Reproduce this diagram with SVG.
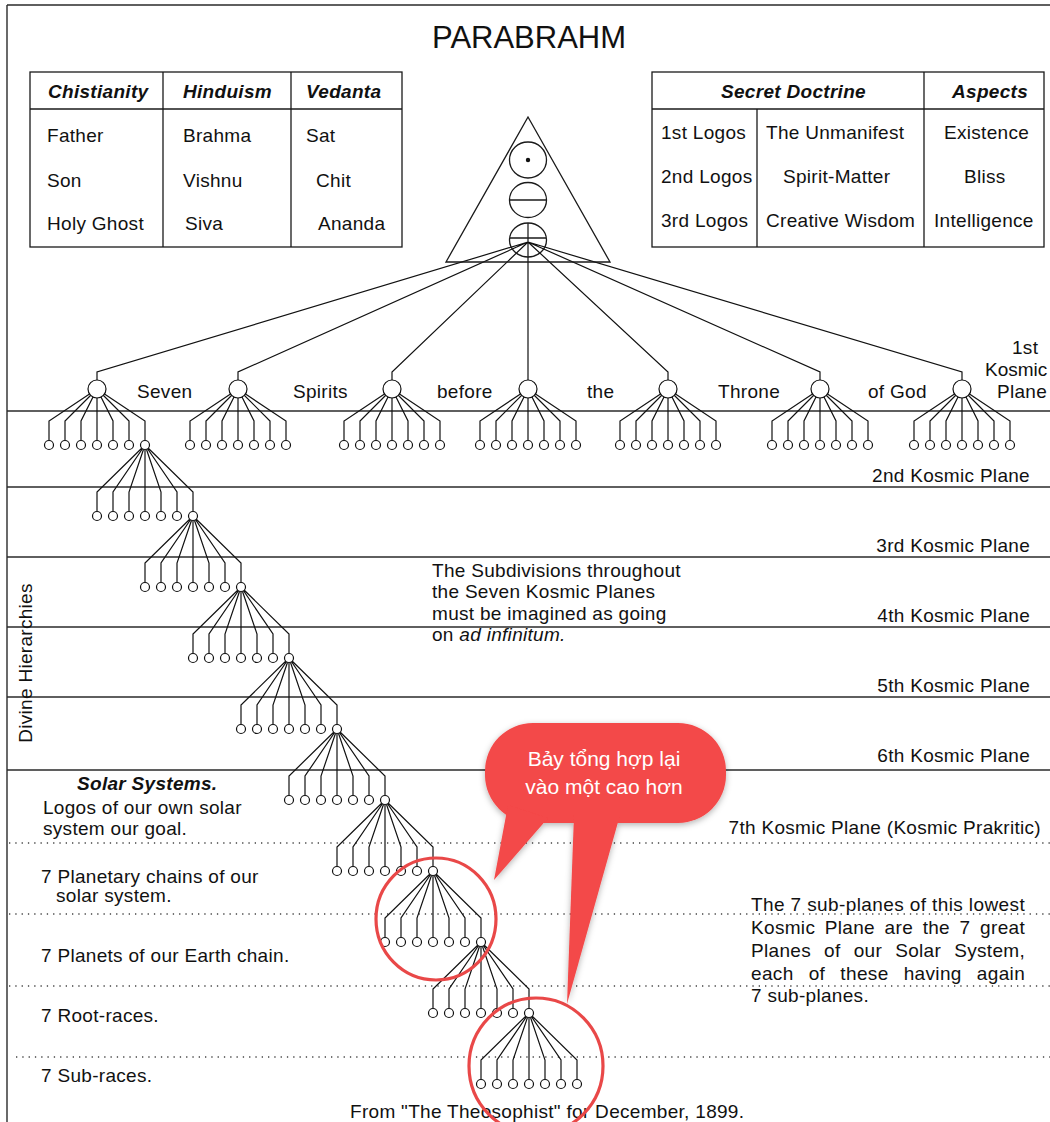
<svg xmlns="http://www.w3.org/2000/svg" width="1050" height="1122" viewBox="0 0 1050 1122">
<style>
 text{font-family:"Liberation Sans",Arial,sans-serif;font-size:19px;fill:#111;letter-spacing:0.3px}
 .hd{font-weight:bold;font-style:italic}
 .it{font-style:italic}
 .ln{stroke:#1a1a1a;stroke-width:1.3;fill:none}
 .plane{stroke:#2a2a2a;stroke-width:1.4}
 .dot{stroke:#444;stroke-width:1.3;stroke-dasharray:1.3 5}
 .c{fill:none;stroke:#111;stroke-width:1.2}
 .n{fill:#fff;stroke:#111;stroke-width:1.2}
 .ct{fill:#fff;font-size:21px;letter-spacing:0}
 .ring{fill:none;stroke:#e94848;stroke-width:3.2}
</style>
<defs>
 <g id="sf"><path class="c" d="M0,0 L-48,32 V51.5 M0,0 L-32,32 V51.5 M0,0 L-16,32 V51.5 M0,0 V51.5 M0,0 L16,32 V51.5 M0,0 L32,32 V51.5 M0,0 L48,32 V51.5"/></g>
 <g id="sk"><circle class="n" cx="-48" cy="56" r="4.5"/><circle class="n" cx="-32" cy="56" r="4.5"/><circle class="n" cx="-16" cy="56" r="4.5"/><circle class="n" cx="0" cy="56" r="4.5"/><circle class="n" cx="16" cy="56" r="4.5"/><circle class="n" cx="32" cy="56" r="4.5"/><circle class="n" cx="48" cy="56" r="4.5"/></g>
 <g id="lf"><path class="c" d="M0,0 L-48,47 V66.5 M0,0 L-32,47 V66.5 M0,0 L-16,47 V66.5 M0,0 V66.5 M0,0 L16,47 V66.5 M0,0 L32,47 V66.5 M0,0 L48,47 V66.5"/></g>
 <g id="lk"><circle class="n" cx="-48" cy="71" r="4.5"/><circle class="n" cx="-32" cy="71" r="4.5"/><circle class="n" cx="-16" cy="71" r="4.5"/><circle class="n" cx="0" cy="71" r="4.5"/><circle class="n" cx="16" cy="71" r="4.5"/><circle class="n" cx="32" cy="71" r="4.5"/><circle class="n" cx="48" cy="71" r="4.5"/></g>
 <filter id="sh" x="-20%" y="-20%" width="140%" height="140%"><feDropShadow dx="0" dy="2" stdDeviation="3" flood-color="#000" flood-opacity="0.3"/></filter>
</defs>
<rect width="1050" height="1122" fill="#fff"/>

<g id="frame" class="plane">
 <line x1="7" y1="5" x2="1050" y2="5"/>
 <line x1="7" y1="5" x2="7" y2="1122"/>
</g>

<g id="planes">
 <g class="plane">
  <line x1="7" y1="411" x2="1050" y2="411"/>
  <line x1="7" y1="487" x2="1050" y2="487"/>
  <line x1="7" y1="557" x2="1050" y2="557"/>
  <line x1="7" y1="627" x2="1050" y2="627"/>
  <line x1="7" y1="697" x2="1050" y2="697"/>
  <line x1="7" y1="770" x2="1050" y2="770"/>
 </g>
 <g class="dot">
  <line x1="9" y1="843" x2="1050" y2="843"/>
  <line x1="9" y1="914" x2="1050" y2="914"/>
  <line x1="9" y1="986" x2="1050" y2="986"/>
  <line x1="16" y1="1057" x2="1050" y2="1057"/>
 </g>
</g>

<g id="title"><text x="432" y="48" style="font-size:31px;letter-spacing:0">PARABRAHM</text></g>

<g id="table-religions">
 <rect x="30" y="72" width="372" height="175" class="ln"/>
 <line x1="30" y1="109" x2="402" y2="109" class="ln"/>
 <line x1="163" y1="72" x2="163" y2="247" class="ln"/>
 <line x1="291" y1="72" x2="291" y2="247" class="ln"/>
 <text x="48" y="98" class="hd">Chistianity</text>
 <text x="183" y="98" class="hd">Hinduism</text>
 <text x="306" y="98" class="hd">Vedanta</text>
 <text x="47" y="142">Father</text>
 <text x="183" y="142">Brahma</text>
 <text x="306" y="142">Sat</text>
 <text x="47" y="187">Son</text>
 <text x="183" y="187">Vishnu</text>
 <text x="316" y="187">Chit</text>
 <text x="47" y="230">Holy Ghost</text>
 <text x="185" y="230">Siva</text>
 <text x="318" y="230">Ananda</text>
</g>

<g id="table-doctrine">
 <rect x="652" y="72" width="392" height="175" class="ln"/>
 <line x1="652" y1="109" x2="1044" y2="109" class="ln"/>
 <line x1="757" y1="109" x2="757" y2="247" class="ln"/>
 <line x1="924" y1="72" x2="924" y2="247" class="ln"/>
 <text x="721" y="98" class="hd">Secret Doctrine</text>
 <text x="952" y="98" class="hd">Aspects</text>
 <text x="661" y="139">1st Logos</text>
 <text x="766" y="139">The Unmanifest</text>
 <text x="944" y="139">Existence</text>
 <text x="661" y="183">2nd Logos</text>
 <text x="783" y="183">Spirit-Matter</text>
 <text x="964" y="183">Bliss</text>
 <text x="661" y="227">3rd Logos</text>
 <text x="766" y="227">Creative Wisdom</text>
 <text x="934" y="227">Intelligence</text>
</g>

<g id="connectors">
 <path class="c" d="M528,242 L97,372 V380 M528,242 L238,372 V380 M528,242 L392,372 V380 M528,223 V380 M528,242 L668,372 V380 M528,242 L820,372 V380 M528,242 L962,372 V380"/>
 <use href="#sf" x="97" y="389"/>
 <use href="#sf" x="238" y="389"/>
 <use href="#sf" x="392" y="389"/>
 <use href="#sf" x="528" y="389"/>
 <use href="#sf" x="668" y="389"/>
 <use href="#sf" x="820" y="389"/>
 <use href="#sf" x="962" y="389"/>
 <use href="#lf" x="145" y="445"/>
 <use href="#lf" x="193" y="516"/>
 <use href="#lf" x="241" y="587"/>
 <use href="#lf" x="289" y="658"/>
 <use href="#lf" x="337" y="729"/>
 <use href="#lf" x="385" y="800"/>
 <use href="#lf" x="433" y="871"/>
 <use href="#lf" x="481" y="942"/>
 <use href="#lf" x="529" y="1013"/>
</g>

<g id="trinity">
 <polygon points="528,117 446,262 610,262" class="ln"/>
 <ellipse cx="528" cy="160" rx="18.5" ry="18" class="ln"/>
 <circle cx="528" cy="160" r="2.2" fill="#111"/>
 <ellipse cx="528" cy="200" rx="18.5" ry="17.5" class="ln"/>
 <line x1="509.5" y1="200" x2="546.5" y2="200" class="ln"/>
 <ellipse cx="528" cy="240" rx="18.5" ry="17" class="ln"/>
 <line x1="510" y1="238" x2="546" y2="238" class="ln"/>
</g>

<g id="spirit-1"><circle class="n" cx="97" cy="389" r="9"/><use href="#sk" x="97" y="389"/></g>
<g id="spirit-2"><circle class="n" cx="238" cy="389" r="9"/><use href="#sk" x="238" y="389"/></g>
<g id="spirit-3"><circle class="n" cx="392" cy="389" r="9"/><use href="#sk" x="392" y="389"/></g>
<g id="spirit-4"><circle class="n" cx="528" cy="389" r="9"/><use href="#sk" x="528" y="389"/></g>
<g id="spirit-5"><circle class="n" cx="668" cy="389" r="9"/><use href="#sk" x="668" y="389"/></g>
<g id="spirit-6"><circle class="n" cx="820" cy="389" r="9"/><use href="#sk" x="820" y="389"/></g>
<g id="spirit-7"><circle class="n" cx="962" cy="389" r="9"/><use href="#sk" x="962" y="389"/></g>

<g id="level-3"><use href="#lk" x="145" y="445"/></g>
<g id="level-4"><use href="#lk" x="193" y="516"/></g>
<g id="level-5"><use href="#lk" x="241" y="587"/></g>
<g id="level-6"><use href="#lk" x="289" y="658"/></g>
<g id="level-7"><use href="#lk" x="337" y="729"/></g>
<g id="planetary-chains"><use href="#lk" x="385" y="800"/></g>
<g id="planets"><use href="#lk" x="433" y="871"/></g>
<g id="root-races"><use href="#lk" x="481" y="942"/></g>
<g id="sub-races"><use href="#lk" x="529" y="1013"/></g>

<g id="labels">
 <text x="137" y="398">Seven</text>
 <text x="293" y="398">Spirits</text>
 <text x="437" y="398">before</text>
 <text x="587" y="398">the</text>
 <text x="718" y="398">Throne</text>
 <text x="868" y="398">of God</text>
 <text x="1012" y="354">1st</text>
 <text x="985" y="376" style="letter-spacing:0">Kosmic</text>
 <text x="997" y="398">Plane</text>
 <text x="1030" y="482" text-anchor="end">2nd Kosmic Plane</text>
 <text x="1030" y="552" text-anchor="end">3rd Kosmic Plane</text>
 <text x="1030" y="622" text-anchor="end">4th Kosmic Plane</text>
 <text x="1030" y="692" text-anchor="end">5th Kosmic Plane</text>
 <text x="1030" y="762" text-anchor="end">6th Kosmic Plane</text>
 <text x="1041" y="834" text-anchor="end">7th Kosmic Plane (Kosmic Prakritic)</text>
 <text transform="translate(32,663) rotate(-90)" text-anchor="middle">Divine Hierarchies</text>
 <text x="432" y="577">The Subdivisions throughout</text>
 <text x="432" y="598">the Seven Kosmic Planes</text>
 <text x="432" y="620">must be imagined as going</text>
 <text x="432" y="641">on <tspan class="it">ad infinitum.</tspan></text>
 <text x="77" y="790" class="hd">Solar Systems.</text>
 <text x="43" y="814">Logos of our own solar</text>
 <text x="43" y="835">system our goal.</text>
 <text x="41" y="883">7 Planetary chains of our</text>
 <text x="56" y="902">solar system.</text>
 <text x="41" y="962">7 Planets of our Earth chain.</text>
 <text x="41" y="1022">7 Root-races.</text>
 <text x="41" y="1082">7 Sub-races.</text>
 <text x="751" y="911" textLength="274" lengthAdjust="spacing">The 7 sub-planes of this lowest</text>
 <text x="751" y="934" textLength="274" lengthAdjust="spacing" style="word-spacing:4px">Kosmic Plane are the 7 great</text>
 <text x="751" y="957" textLength="274" lengthAdjust="spacing" style="word-spacing:7.5px">Planes of our Solar System,</text>
 <text x="751" y="980" textLength="274" lengthAdjust="spacing" style="word-spacing:9.5px">each of these having again</text>
 <text x="751" y="1002">7 sub-planes.</text>
 <text x="350" y="1118">From "The Theosophist" for December, 1899.</text>
</g>

<g id="highlight-rings">
 <ellipse cx="436" cy="919" rx="60" ry="61" class="ring"/>
 <ellipse cx="536" cy="1066" rx="67" ry="68" class="ring"/>
</g>

<g id="callout">
 <g filter="url(#sh)" fill="#f34848">
  <rect x="485" y="723" width="241" height="100" rx="48" ry="48"/>
  <polygon points="508,805 548,818 494,880"/>
  <polygon points="574,815 620,815 567,1004"/>
 </g>
 <text x="604" y="766" text-anchor="middle" class="ct">Bảy tổng hợp lại</text>
 <text x="604" y="794" text-anchor="middle" class="ct">vào một cao hơn</text>
</g>
</svg>
